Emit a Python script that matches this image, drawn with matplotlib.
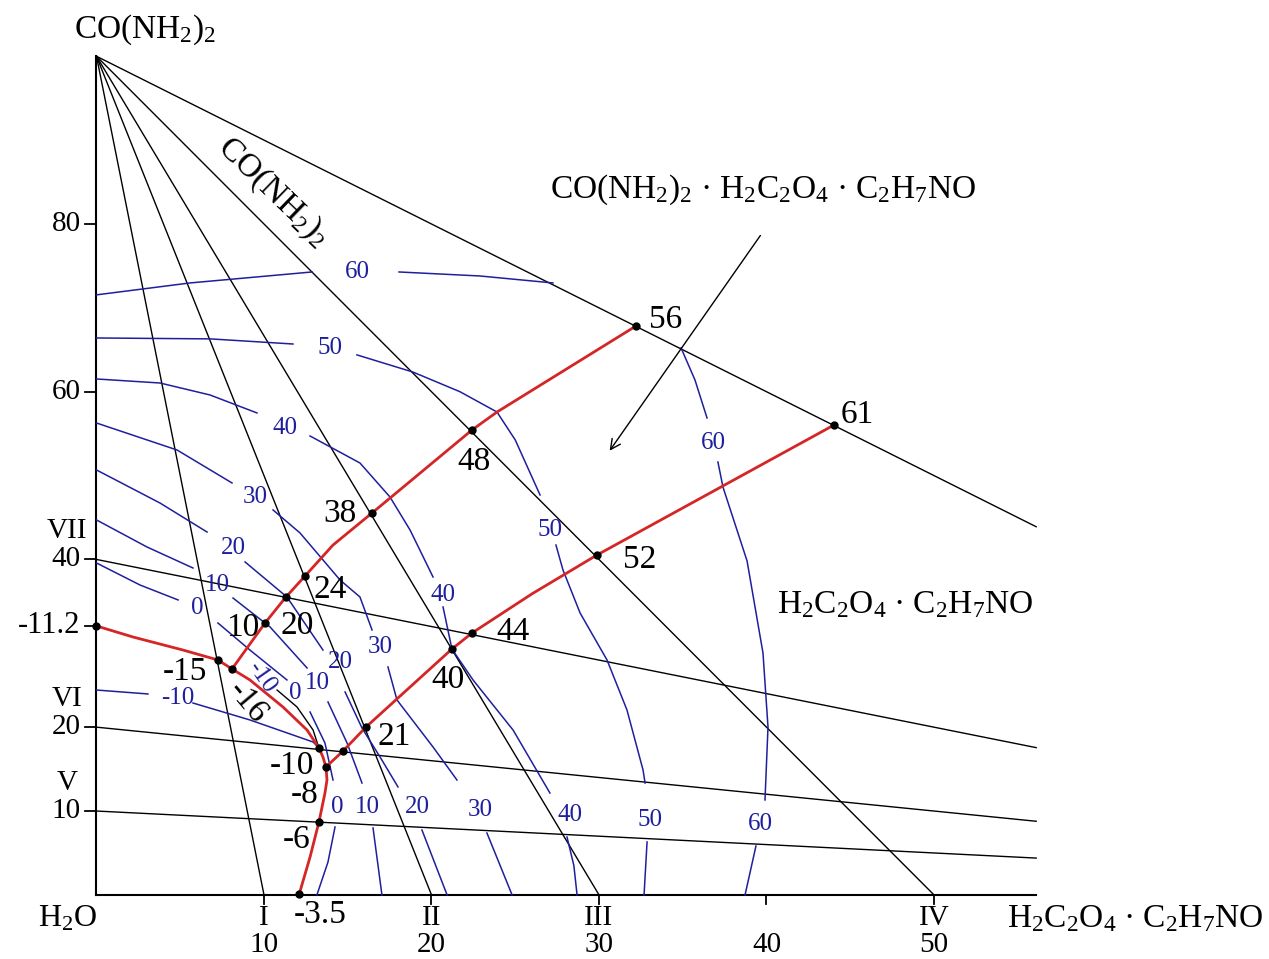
import matplotlib
matplotlib.use("Agg")
import matplotlib.pyplot as plt

plt.rcParams["font.family"] = ["Liberation Serif", "DejaVu Serif"]
plt.rcParams["mathtext.fontset"] = "custom"
plt.rcParams["mathtext.rm"] = "Liberation Serif"
plt.rcParams["mathtext.it"] = "Liberation Serif:italic"
plt.rcParams["mathtext.bf"] = "Liberation Serif:bold"

BLUE = "#1f1f9e"
RED = "#d42626"

# composition frame (mass %): x = H2C2O4·C2H7NO, y = CO(NH2)2
x_end = 56.1
base_points = [10, 20, 30, 50]          # sections from the CO(NH2)2 corner
base_numerals = ["I", "II", "III", "IV"]
side_points = [40, 20, 10]              # sections towards the H2C2O4·C2H7NO corner
side_numerals = ["VII", "VI", "V"]
y_ticks = [10, 20, 40, 60, 80]
x_ticks = [10, 20, 30, 40, 50]

# crystallization (red) curves
red_ice_urea = [(0, 32.07), (2.18, 30.75), (5.16, 29.2), (7.25, 28.01), (8.09, 26.94),
                (9.16, 25.63), (11.13, 22.41), (12.57, 19.66), (13.28, 17.52),
                (13.52, 16.44), (13.7, 15.25)]
red_ice_salt = [(13.7, 15.25), (13.76, 13.7), (13.64, 12.15), (13.28, 8.69),
                (12.75, 4.52), (12.09, 0)]
red_urea_comp = [(8.09, 26.94), (10.06, 32.42), (11.31, 35.52), (12.45, 38.03),
                 (14.12, 41.72), (16.45, 45.54), (22.42, 55.44), (23.91, 57.58),
                 (32.21, 67.84)]
red_comp_salt = [(13.7, 15.25), (14.72, 17.16), (16.09, 20.02), (21.22, 29.32),
                 (22.42, 31.23), (26.0, 35.9), (29.88, 40.53), (44.03, 56.03)]

# nonvariant / section points on the curves
dots = [(0, 32.07), (7.25, 28.01), (8.09, 26.94), (10.06, 32.42), (11.31, 35.52),
        (12.45, 38.03), (16.45, 45.54), (22.42, 55.44), (32.21, 67.84),
        (13.28, 17.52), (14.72, 17.16), (13.7, 15.25), (13.28, 8.69), (12.09, 0.1),
        (16.09, 20.02), (21.22, 29.32), (22.42, 31.23), (29.88, 40.53), (44.03, 56.03)]

# isotherms (blue), split where labels sit
iso_60 = [[(0, 71.55), (5.58, 72.97), (12.87, 74.28)],
          [(18.06, 74.28), (22.9, 73.8), (27.25, 72.97)],
          [(34.9, 65.22), (35.73, 61.4), (36.45, 56.87)],
          [(37.1, 51.62), (37.4, 48.64), (38.84, 39.82), (39.79, 28.85), (40.09, 20.02),
           (39.91, 11.32)],
          [(39.37, 5.83), (38.72, 0)]]
iso_50 = [[(0, 66.41), (6.8, 66.3), (11.73, 65.69)],
          [(15.55, 64.39), (18.9, 62.34), (21.7, 60.0), (23.91, 57.58), (25.0, 54.25),
           (26.48, 47.69)],
          [(27.43, 41.72), (27.85, 38.74), (28.87, 33.62), (30.48, 28.01), (31.67, 22.05),
           (32.63, 14.89), (32.75, 13.34)],
          [(32.87, 6.31), (32.69, 0)]]
iso_40 = [[(0, 61.52), (3.79, 61.04), (6.78, 59.61), (9.58, 57.47)],
          [(12.75, 54.72), (15.73, 51.5), (17.52, 47.45), (18.72, 43.51), (20.09, 37.91)],
          [(20.69, 34.33), (21.22, 29.32), (22.48, 25.63), (24.87, 19.66), (27.07, 12.15)],
          [(28.09, 6.9), (28.5, 3.5), (28.69, 0)]]
iso_30 = [[(0, 56.27), (4.81, 53.05), (8.09, 49.12)],
          [(10.54, 45.9), (12.15, 43.16), (14.54, 37.55), (15.73, 35.52), (16.45, 31.59)],
          [(17.4, 27.18), (17.94, 23.24), (20.09, 17.64), (21.52, 13.7)],
          [(23.31, 7.38), (24.81, 0)]]
iso_20 = [[(0, 50.67), (3.79, 46.73), (6.6, 43.27)],
          [(8.87, 39.7), (11.37, 35.52), (13.52, 29.2)],
          [(14.84, 24.2), (15.85, 19.9), (16.93, 16.44), (18.0, 12.87)],
          [(19.43, 7.74), (20.93, 0)]]
iso_10 = [[(0, 44.71), (3.01, 41.49), (5.76, 38.98)],
          [(8.15, 35.4), (10.36, 31.95), (12.57, 27.06)],
          [(13.82, 23.0), (14.96, 18.11), (15.85, 13.34)],
          [(16.51, 7.98), (17.04, 0)]]
iso_0 = [[(0, 39.58), (2.6, 36.95), (4.87, 35.17)],
         [(7.25, 32.42), (9.16, 29.2), (11.37, 25.63)],
         [(12.75, 21.81), (13.64, 18.11), (14.12, 13.7)],
         [(14.24, 8.1), (13.82, 3.92), (13.16, 0)]]
iso_m10 = [[(0, 24.43), (3.07, 23.96)],
           [(5.76, 22.88), (9.16, 20.86), (12.93, 18.23), (13.28, 17.52)]]
iso_m10_black = [(10.78, 24.43), (11.97, 22.41), (12.93, 19.66), (13.28, 17.52)]

blue_labels = [(15.55, 74.28, "60", 0), (13.94, 65.22, "50", 0), (11.25, 55.68, "40", 0),
               (9.46, 47.45, "30", 0), (8.15, 41.37, "20", 0), (7.19, 36.95, "10", 0),
               (6.0, 34.21, "0", 0), (4.87, 23.48, "-10", 0), (27.07, 43.51, "50", 0),
               (20.69, 35.76, "40", 0), (16.93, 29.56, "30", 0), (14.54, 27.77, "20", 0),
               (13.16, 25.27, "10", 0), (11.85, 24.08, "0", 0), (9.88, 25.98, "-10", -55),
               (36.81, 53.89, "60", 0), (14.36, 10.48, "0", 0), (16.15, 10.48, "10", 0),
               (19.13, 10.48, "20", 0), (22.9, 10.12, "30", 0), (28.27, 9.53, "40", 0),
               (33.04, 8.93, "50", 0), (39.61, 8.45, "60", 0)]

point_labels = [(34.0, 68.56, "56", 0), (45.4, 57.23, "61", 0), (22.54, 51.62, "48", 0),
                (14.54, 45.42, "38", 0), (32.45, 39.94, "52", 0), (24.87, 31.35, "44", 0),
                (21.01, 25.63, "40", 0), (13.94, 36.36, "24", 0), (11.97, 32.07, "20", 0),
                (8.75, 31.83, "10", 0), (5.28, 26.58, "-15", 0), (8.99, 22.88, "-16", -50),
                (17.76, 18.83, "21", 0), (11.67, 15.37, "-10", 0), (12.45, 11.92, "-8", 0),
                (11.97, 6.55, "-6", 0), (13.34, -2.39, "-3.5", 0)]


def xy(points):
    return [p[0] for p in points], [p[1] for p in points]


fig = plt.figure(figsize=(12.69, 9.59), dpi=100)
ax = fig.add_axes([0, 0, 1, 1])
ax.set_xlim(-5.761, 70.0)
ax.set_ylim(-7.644, 106.71)
ax.axis("off")

# frame
ax.plot([0, 0], [0, 100], color="black", lw=1.5)
ax.plot([0, x_end], [0, 0], color="black", lw=1.5)
ax.plot([0, x_end], [100, 100 - x_end], color="black", lw=1.0)
for yt in y_ticks + [32.07]:
    ax.plot([-0.66, 0], [yt, yt], color="black", lw=1.3)
for xt in x_ticks:
    ax.plot([xt, xt], [0, -1.1], color="black", lw=1.3)

# sections
for xb in base_points:
    ax.plot([0, xb], [100, 0], color="black", lw=1.0)
for ys in side_points:
    ax.plot([0, x_end], [ys, ys * (1 - x_end / 100)], color="black", lw=1.0)

# isotherms
for iso in [iso_60, iso_50, iso_40, iso_30, iso_20, iso_10, iso_0, iso_m10]:
    for seg in iso:
        ax.plot(*xy(seg), color=BLUE, lw=1.1)
ax.plot(*xy(iso_m10_black), color="black", lw=1.0)

# crystallization curves
for curve in [red_ice_urea, red_ice_salt, red_urea_comp, red_comp_salt]:
    ax.plot(*xy(curve), color=RED, lw=2.0, solid_joinstyle="round")
ax.plot(*xy(dots), "o", color="black", ms=5, ls="none", zorder=5)

for x, y, t, r in blue_labels:
    ax.text(x, y, t, color=BLUE, fontsize=18, ha="center", va="center", rotation=r)
for x, y, t, r in point_labels:
    ax.text(x, y, t, color="black", fontsize=24, ha="center", va="center", rotation=r)

# axis labels
for yt in y_ticks:
    ax.text(-0.95, yt, str(yt), fontsize=21, ha="right", va="center")
ax.text(-0.95, 32.07, "-11.2", fontsize=22, ha="right", va="center")
for ys, name in zip(side_points, side_numerals):
    ax.text(-1.76, ys + 3.4, name, fontsize=21, ha="center", va="center")
for xb, name in zip(base_points, base_numerals):
    ax.text(xb, -2.8, name, fontsize=21, ha="center", va="center")
for xt in x_ticks:
    ax.text(xt, -6.0, str(xt), fontsize=21, ha="center", va="center")

ax.text(2.9, 103.2, r"$\mathrm{CO(NH_2)_2}$", fontsize=24, ha="center", va="center")
ax.text(-1.7, -2.8, r"$\mathrm{H_2O}$", fontsize=23, ha="center", va="center")
ax.text(62.0, -2.9, r"$\mathrm{H_2C_2O_4\ ·\ C_2H_7NO}$", fontsize=24, ha="center", va="center")
ax.text(39.8, 84.1, r"$\mathrm{CO(NH_2)_2\ ·\ H_2C_2O_4\ ·\ C_2H_7NO}$", fontsize=24,
        ha="center", va="center")
ax.text(48.3, 34.6, r"$\mathrm{H_2C_2O_4\ ·\ C_2H_7NO}$", fontsize=24, ha="center", va="center")
ax.text(10.54, 83.8, r"$\mathrm{CO(NH_2)_2}$", fontsize=24, ha="center", va="center",
        rotation=-44, rotation_mode="anchor")

ax.annotate("", xy=(30.54, 52.69), xytext=(39.73, 78.9),
            arrowprops=dict(arrowstyle="->", color="black", lw=1.0, mutation_scale=18))

fig.savefig("out.png", dpi=100)
